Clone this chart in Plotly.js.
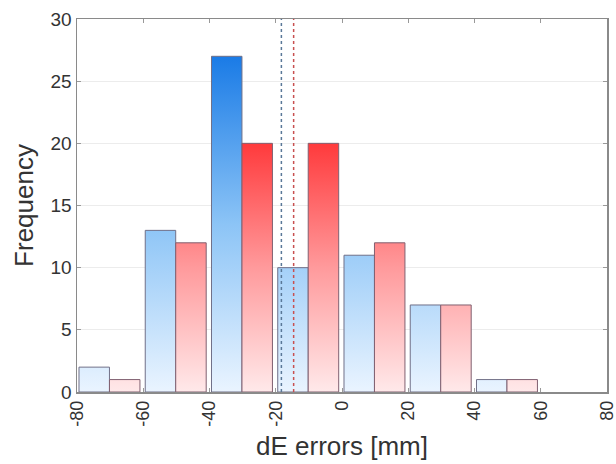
<!DOCTYPE html>
<html>
<head>
<meta charset="utf-8">
<script src="https://cdn.plot.ly/plotly-3.0.1.min.js"></script>
<style>html,body{margin:0;padding:0;background:#fff;}#chart{width:616px;height:464px;}</style>
</head>
<body>
<div id="chart"></div>
<script>
// Data
const binStarts = [-80, -60, -40, -20, 0, 20, 40];
const blueCounts = [2, 13, 27, 10, 11, 7, 1];
const redCounts = [1, 12, 20, 20, 12, 7, 1];
const blueMean = -18.3;
const redMean = -14.6;
const xTicks = [-80, -60, -40, -20, 0, 20, 40, 60, 80];
const yTicks = [0, 5, 10, 15, 20, 25, 30];

// bar geometry within each 20-wide bin (style constants)
const blueOffset = 0.6, redOffset = 9.8, barWidth = 9.2;

function polys(counts, offset) {
  const xs = [], ys = [];
  binStarts.forEach((s, i) => {
    const l = s + offset, r = s + offset + barWidth, h = counts[i];
    xs.push(l, l, r, r, l, null);
    ys.push(0, h, h, 0, 0, null);
  });
  return {xs, ys};
}

const b = polys(blueCounts, blueOffset);
const r = polys(redCounts, redOffset);

const traces = [
  {
    type: 'scatter', mode: 'lines', x: b.xs, y: b.ys, fill: 'toself',
    line: {color: '#707088', width: 1},
    fillgradient: {type: 'vertical', start: 0, stop: Math.max(...blueCounts),
      colorscale: [[0, '#eaf4ff'], [0.5, '#8cc4f6'], [1, '#1a7be6']]},
    hoverinfo: 'skip', showlegend: false
  },
  {
    type: 'scatter', mode: 'lines', x: r.xs, y: r.ys, fill: 'toself',
    line: {color: '#806070', width: 1},
    fillgradient: {type: 'vertical', start: 0, stop: Math.max(...redCounts),
      colorscale: [[0, '#ffe9ea'], [0.5, '#ff9a9c'], [1, '#ff3a3c']]},
    hoverinfo: 'skip', showlegend: false
  },
  {
    type: 'scatter', mode: 'lines', x: [blueMean, blueMean], y: [0, 30],
    line: {color: '#5a7898', width: 1.5, dash: 'dot'}, showlegend: false, hoverinfo: 'skip'
  },
  {
    type: 'scatter', mode: 'lines', x: [redMean, redMean], y: [0, 30],
    line: {color: '#c85050', width: 1.5, dash: 'dot'}, showlegend: false, hoverinfo: 'skip'
  }
];

const font = {family: 'Arial, "Liberation Sans", sans-serif', color: '#333333'};

const layout = {
  width: 616, height: 464,
  margin: {l: 77, r: 9, t: 19, b: 72},
  paper_bgcolor: '#fff', plot_bgcolor: '#fff',
  font: Object.assign({size: 18}, font),
  showlegend: false,
  xaxis: {
    range: [-80, 80], tickvals: xTicks, ticktext: xTicks.map(String), tickangle: -90,
    ticks: 'inside', ticklen: 4, tickcolor: '#999', mirror: 'ticks',
    showline: true, linecolor: '#8a8a8a', linewidth: 1.5,
    showgrid: false, zeroline: false, ticklabeloverflow: 'allow',
    tickfont: Object.assign({size: 18}, font),
    automargin: false,
    title: {text: 'dE errors [mm]', font: Object.assign({size: 26}, font), standoff: 11}
  },
  yaxis: {
    range: [0, 30], tickvals: yTicks, ticktext: yTicks.map(String),
    ticks: 'inside', ticklen: 4, tickcolor: '#999', mirror: 'ticks',
    showline: true, linecolor: '#8a8a8a', linewidth: 1.5,
    showgrid: true, gridcolor: '#ececec', gridwidth: 1, zeroline: false,
    ticklabeloverflow: 'allow',
    tickfont: Object.assign({size: 19}, font),
    automargin: false,
    title: {text: 'Frequency', font: Object.assign({size: 26}, font), standoff: 9}
  }
};

Plotly.newPlot('chart', traces, layout, {displayModeBar: false, staticPlot: true});
</script>
</body>
</html>
